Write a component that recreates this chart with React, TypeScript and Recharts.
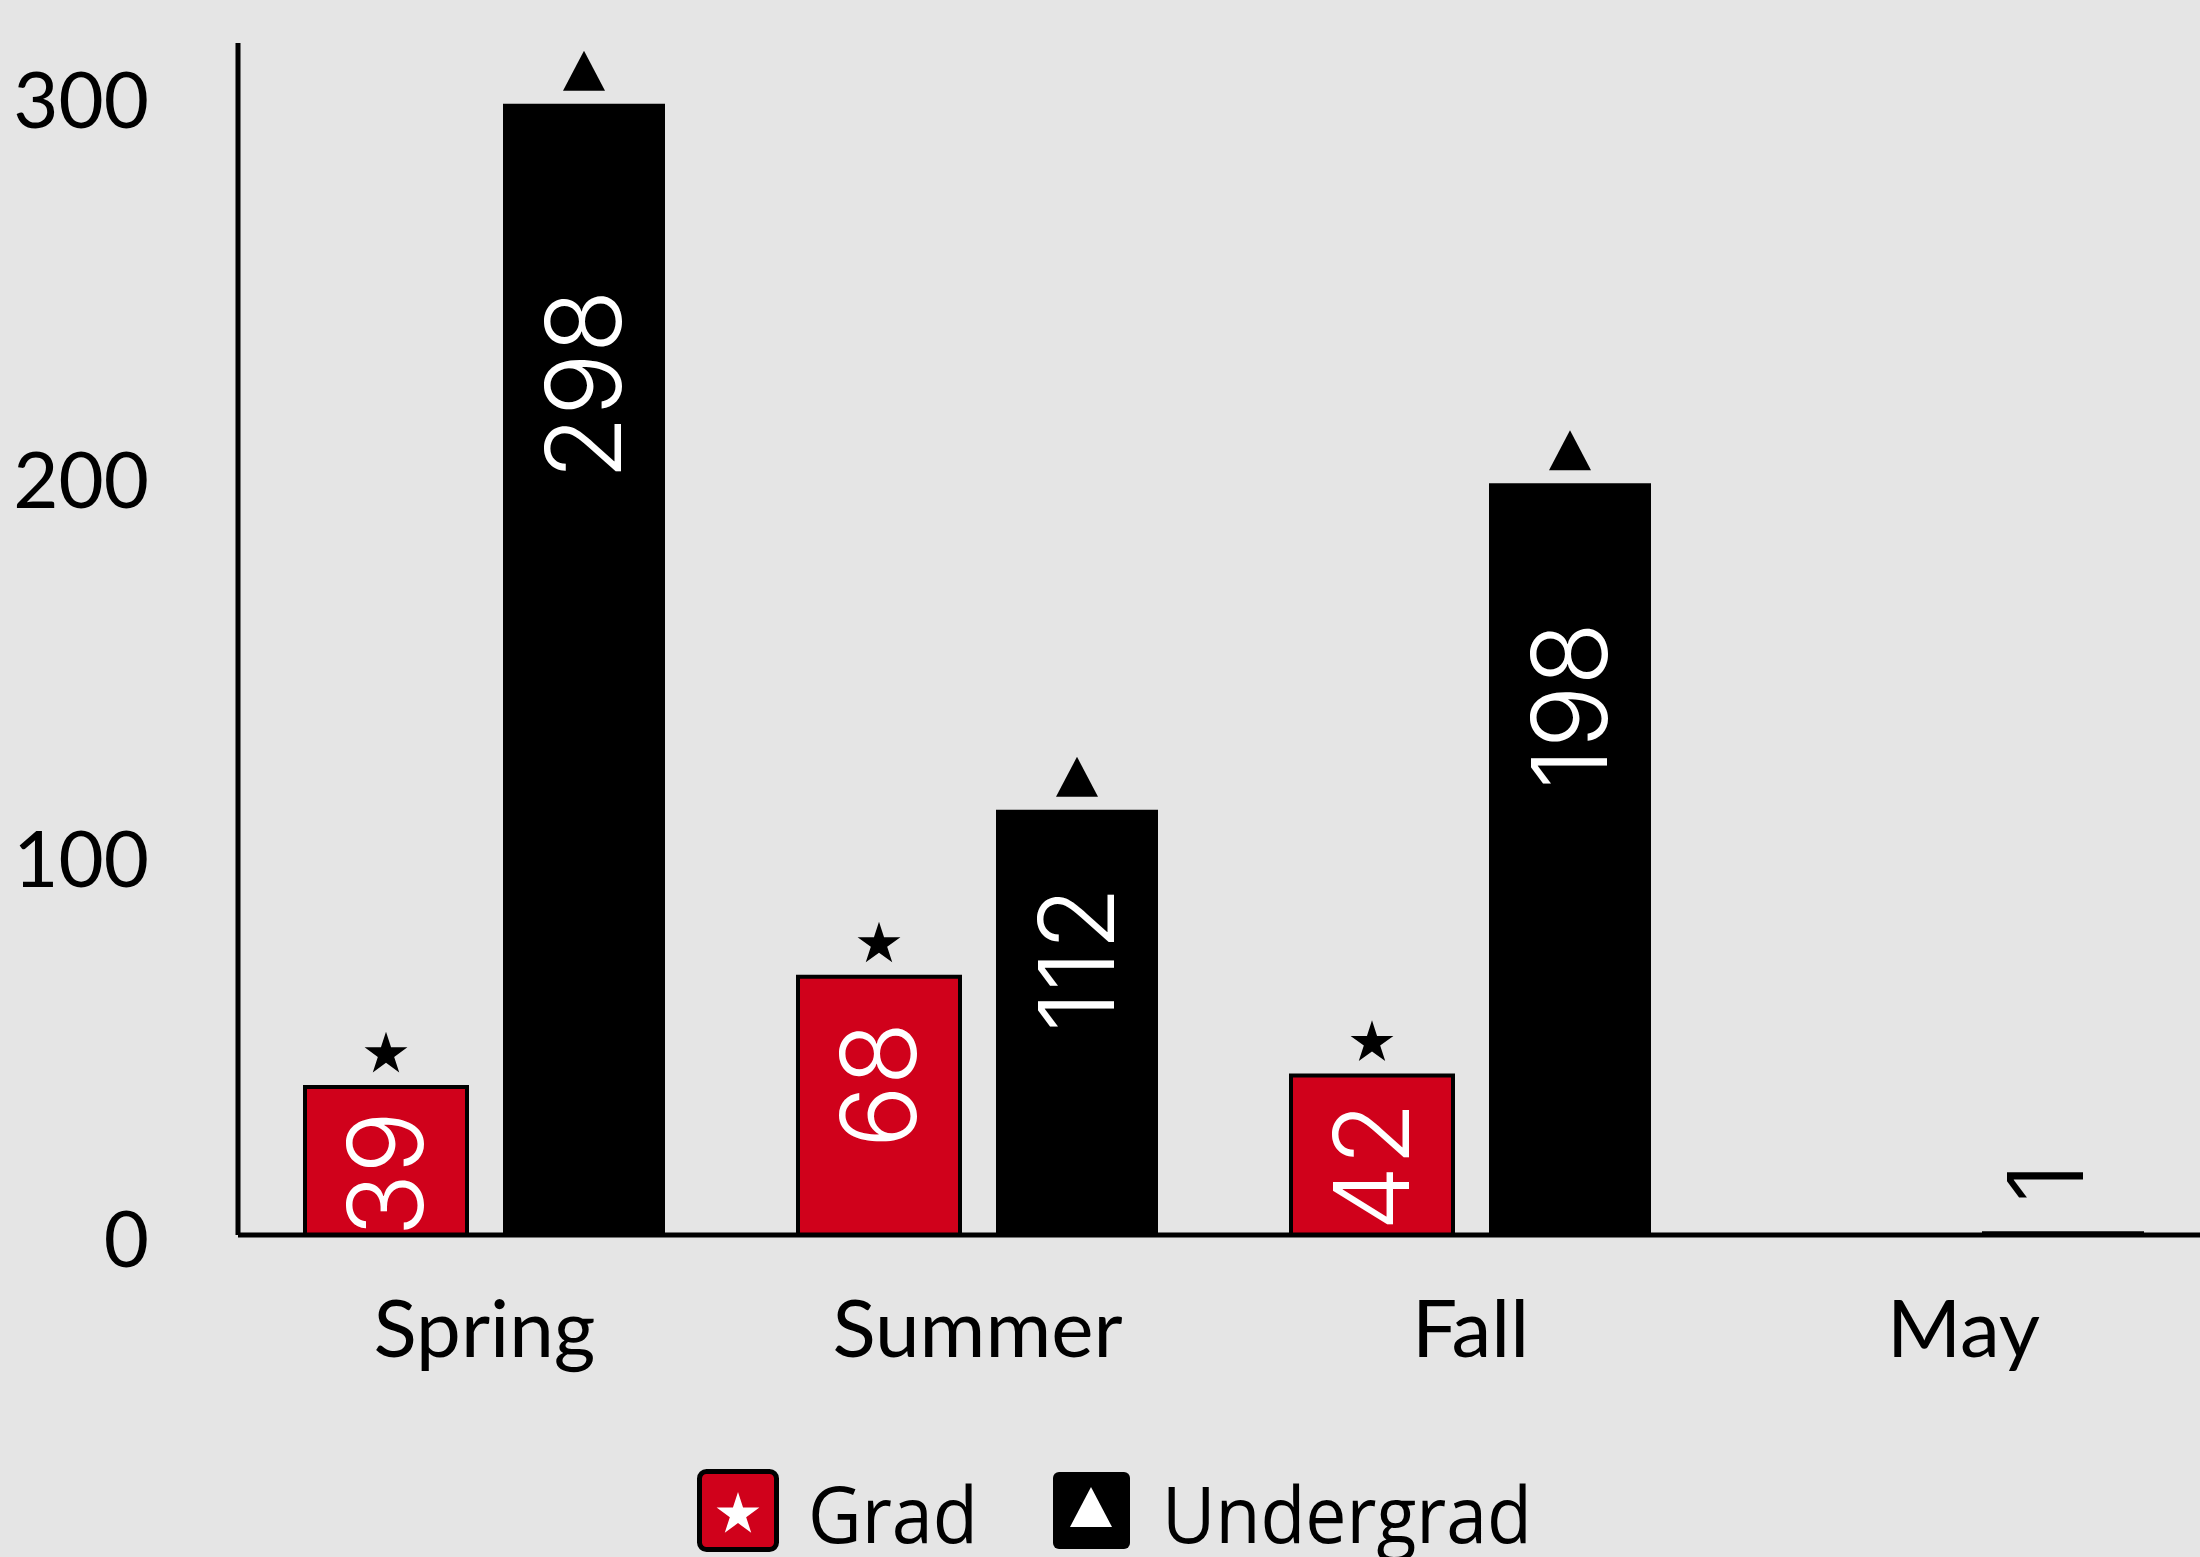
import React from 'react';
import { BarChart, Bar, XAxis, YAxis, Legend, LabelList } from 'recharts';

const categories = ['Spring', 'Summer', 'Fall', 'May'];
const gradValues: (number | null)[] = [39, 68, 42, null];
const undergradValues: (number | null)[] = [298, 112, 198, 1];
const yTicks = [0, 100, 200, 300];
const seriesNames = ['Grad', 'Undergrad'];
const seriesColors = ['#d0011b', '#000000'];

const data = categories.map((c, i) => ({
  name: c,
  grad: gradValues[i],
  undergrad: undergradValues[i],
}));

const BG = '#e5e5e5';
const LABEL_FONT = 104;

const starPath = (cx: number, cy: number, R: number, r: number) => {
  const pts: string[] = [];
  for (let i = 0; i < 10; i++) {
    const ang = -Math.PI / 2 + (i * Math.PI) / 5;
    const rad = i % 2 === 0 ? R : r;
    pts.push(`${cx + rad * Math.cos(ang)},${cy + rad * Math.sin(ang)}`);
  }
  return `M${pts.join('L')}Z`;
};

const triPath = (cx: number, bottom: number, w: number, h: number) =>
  `M${cx},${bottom - h}L${cx + w / 2},${bottom}L${cx - w / 2},${bottom}Z`;

const makeLabel = (marker: 'star' | 'triangle') => (props: any) => {
  const { x, y, width, height, value } = props;
  if (value == null) return null;
  const cx = x + width / 2;
  const h = height;
  const estLen = String(value).length * 0.55 * LABEL_FONT;
  const fits = h > estLen + 20;
  const textProps = {
    fill: fits ? '#ffffff' : '#000000',
    fontFamily: 'Inter, sans-serif',
    fontWeight: 300,
    fontSize: LABEL_FONT,
  };
  if (!fits) {
    const lx = cx - 17;
    const ly = y - 28;
    return (
      <text
        x={lx}
        y={ly}
        dy="0.36em"
        textAnchor="start"
        transform={`rotate(-90 ${lx} ${ly})`}
        {...textProps}
      >
        {value}
      </text>
    );
  }
  const ly = y + Math.min(0.19 * h, 190) - 4;
  const R = 22.5;
  return (
    <g>
      {marker === 'star' ? (
        <path d={starPath(cx, y - 14.5 - 0.809 * R, R, R * 0.382)} fill="#000" />
      ) : (
        <path d={triPath(cx, y - 13, 42, 40)} fill="#000" />
      )}
      <text
        x={cx}
        y={ly}
        dy="0.36em"
        textAnchor="end"
        transform={`rotate(-90 ${cx} ${ly})`}
        {...textProps}
      >
        {value}
      </text>
    </g>
  );
};

const YTick = ({ x, y, payload }: any) => (
  <text x={x} y={y} dy={32} textAnchor="end" fontFamily="Lato, sans-serif" fontSize={78} fill="#000">
    {payload.value}
  </text>
);

const XTick = ({ x, y, payload }: any) => (
  <text x={x} y={y} dy={122} textAnchor="middle" fontFamily="Lato, sans-serif" fontSize={80} fill="#000">
    {payload.value}
  </text>
);

const LegendContent = () => (
  <svg width={880} height={97} style={{ display: 'block', overflow: 'visible' }}>
    <rect x={9.5} y={11.5} width={77} height={78} rx={7} fill={seriesColors[0]} stroke="#000" strokeWidth={5} />
    <path d={starPath(48, 32 + 22.5, 22.5, 22.5 * 0.382)} fill="#fff" />
    <text
      x={118}
      y={83}
      fontFamily='"Open Sans", sans-serif'
      fontSize={78}
      fill="#000"
      textLength={170}
      lengthAdjust="spacingAndGlyphs"
    >
      {seriesNames[0]}
    </text>
    <rect x={363} y={12} width={77} height={77} rx={6} fill={seriesColors[1]} />
    <path d={triPath(401, 67, 42, 40)} fill="#fff" />
    <text
      x={472}
      y={83}
      fontFamily='"Open Sans", sans-serif'
      fontSize={78}
      fill="#000"
      textLength={370}
      lengthAdjust="spacingAndGlyphs"
    >
      {seriesNames[1]}
    </text>
  </svg>
);

export default function App() {
  return (
    <div
      style={{
        position: 'absolute',
        left: 0,
        top: 0,
        width: 2200,
        height: 1557,
        overflow: 'hidden',
        background: BG,
      }}
    >
      <BarChart
        width={2212}
        height={1557}
        data={data}
        margin={{ top: 43, right: 2, bottom: 0, left: 0 }}
        barSize={162}
        barGap={36}
      >
        <XAxis
          dataKey="name"
          height={322}
          axisLine={{ stroke: '#000', strokeWidth: 5 }}
          tickLine={false}
          tickSize={0}
          tickMargin={0}
          tick={<XTick />}
          interval={0}
        />
        <YAxis
          width={238}
          domain={[0, 314]}
          ticks={yTicks}
          axisLine={{ stroke: '#000', strokeWidth: 5 }}
          tickLine={false}
          tickSize={0}
          tickMargin={89}
          tick={<YTick />}
          interval={0}
        />
        <Legend
          layout="vertical"
          align="center"
          verticalAlign="middle"
          wrapperStyle={{ position: 'absolute', left: 690, top: 1460, width: 880, height: 97, bottom: 'auto', right: 'auto' }}
          content={() => <LegendContent />}
        />
        <Bar
          dataKey="grad"
          name={seriesNames[0]}
          fill={seriesColors[0]}
          stroke="#000"
          strokeWidth={4}
          isAnimationActive={false}
        >
          <LabelList dataKey="grad" content={makeLabel('star')} />
        </Bar>
        <Bar
          dataKey="undergrad"
          name={seriesNames[1]}
          fill={seriesColors[1]}
          isAnimationActive={false}
        >
          <LabelList dataKey="undergrad" content={makeLabel('triangle')} />
        </Bar>
      </BarChart>
    </div>
  );
}
